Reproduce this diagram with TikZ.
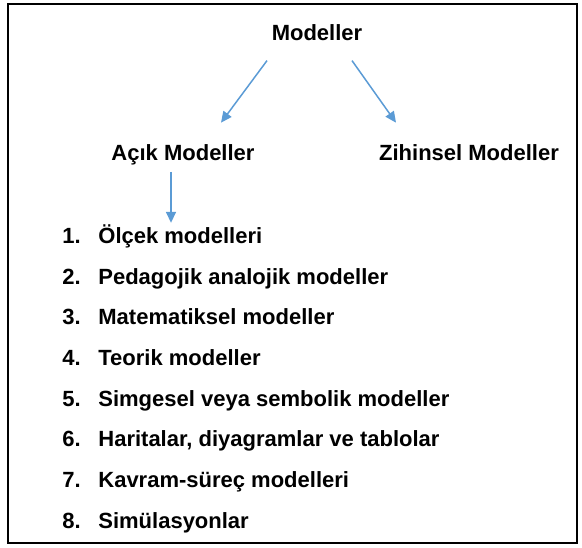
\documentclass[tikz,border=0pt]{standalone}
\usepackage{fontspec}
\setmainfont{Liberation Sans}
\usetikzlibrary{arrows.meta, positioning}
\definecolor{arrowblue}{RGB}{91,155,213}

\begin{document}
\begin{tikzpicture}[x=0.5pt, y=-0.5pt]
	\tikzstyle{Title} = [inner sep=0pt, anchor=base, font=\fontsize{11pt}{13pt}\selectfont\bfseries]
	\tikzstyle{Item} = [inner sep=0pt, anchor=base west, font=\fontsize{11pt}{13pt}\selectfont\bfseries]
	\tikzstyle{arrow} = [line width=0.75pt, arrowblue, ->, >={Triangle[length=5.5pt, width=5pt]}]
	
	\useasboundingbox (0,0) rectangle (582,547);
	\draw [line width=1pt, black] (8,4) rectangle (577,543);
	
	\node (modeller) [Title] at (317,40) {Modeller};
	\node (acik) [Title] at (183,160) {Açık Modeller};
	\node (zihinsel) [Title] at (469,160) {Zihinsel Modeller};
	
	\node (l1) [Item] at (62,243) {\makebox[18pt][l]{1.}Ölçek modelleri};
	\node (l2) [Item] at (62,284) {\makebox[18pt][l]{2.}Pedagojik analojik modeller};
	\node (l3) [Item] at (62,324) {\makebox[18pt][l]{3.}Matematiksel modeller};
	\node (l4) [Item] at (62,365) {\makebox[18pt][l]{4.}Teorik modeller};
	\node (l5) [Item] at (62,406) {\makebox[18pt][l]{5.}Simgesel veya sembolik modeller};
	\node (l6) [Item] at (62,446) {\makebox[18pt][l]{6.}Haritalar, diyagramlar ve tablolar};
	\node (l7) [Item] at (62,487) {\makebox[18pt][l]{7.}Kavram-süreç modelleri};
	\node (l8) [Item] at (62,528) {\makebox[18pt][l]{8.}Simülasyonlar};
	
	\draw [arrow] ([shift={(-50,20)}]modeller.south) -- ([shift={(38,-21)}]acik.north);
	\draw [arrow] ([shift={(35,20)}]modeller.south) -- ([shift={(-73,-21)}]zihinsel.north);
	\draw [arrow] ([shift={(-12,7)}]acik.south) -- ([shift={(-12,-1)}]acik.south |- l1.north);
\end{tikzpicture}
\end{document}
